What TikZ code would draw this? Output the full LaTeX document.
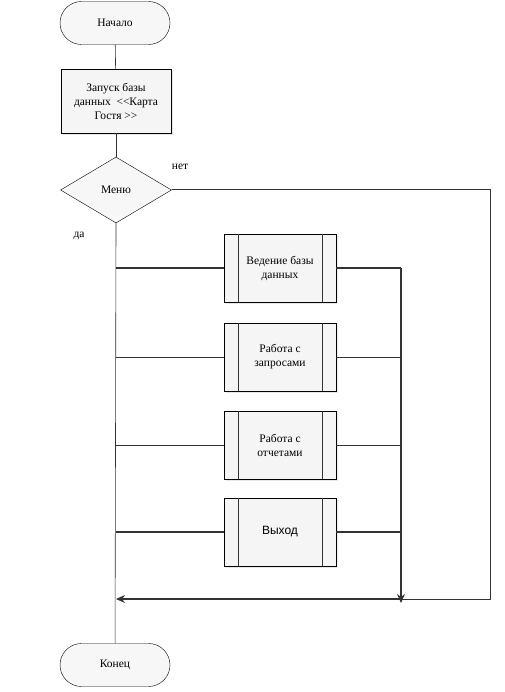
\documentclass[tikz,border=0pt]{standalone}
\usepackage{fontspec}
\setmainfont{Liberation Serif}
\newfontfamily\boxsans{Liberation Sans}
\usetikzlibrary{arrows.meta, shapes.geometric, shapes.misc, shadows}

\begin{document}
\begin{tikzpicture}[x=1pt, y=-1pt, font=\fontsize{11.5}{14}\selectfont,
  term/.style={draw, rounded rectangle, fill=gray!6, minimum width=110pt,
    minimum height=43pt, inner sep=0pt},
  procbox/.style={draw, fill=gray!8, drop shadow={shadow xshift=2pt,
    shadow yshift=-2pt, fill=gray!35}, minimum width=110pt,
    minimum height=64pt, align=center},
  subbox/.style={draw, fill=gray!8, drop shadow={shadow xshift=2pt,
    shadow yshift=-2pt, fill=gray!35}, minimum width=112pt,
    minimum height=68pt, align=center},
  thin line/.style={line width=0.6pt, draw=black!80},
  thick line/.style={line width=1.3pt, draw=black!80}]

\useasboundingbox (0,0) rectangle (504,692);

% main column
\node[term] (start) at (115,23) {Начало};
\node[procbox] (launch) at (116,101) {Запуск базы\\данных \ <{}<Карта\\Гостя >{}>};
\node[draw, diamond, fill=gray!6, minimum width=111pt, minimum height=66pt,
  inner sep=0pt] (menu) at (116,190) {Меню};
\node[term] (stop) at (115,665) {Конец};

\node at (180,167) {нет};
\node at (79,236) {да};

% subprocesses
\node[subbox] (sub1) at (280,268) {Ведение базы\\данных};
\node[subbox] (sub2) at (280,357) {Работа с\\запросами};
\node[subbox] (sub3) at (280,445) {Работа с\\отчетами};
\node[subbox, font=\boxsans\fontsize{12}{14}\selectfont] (sub4) at (280,532) {Выход};

\foreach \b in {sub1,sub2,sub3,sub4} {
  \draw[thin line] ([xshift=14pt]\b.north west) -- ([xshift=14pt]\b.south west);
  \draw[thin line] ([xshift=-14pt]\b.north east) -- ([xshift=-14pt]\b.south east);
}

\coordinate (jr) at (401,599);
\coordinate (jl) at (116,599);
\coordinate (far) at (490,190);

\draw[thin line] (start) -- (launch);
\draw[thin line] (launch) -- (menu);
\draw[thin line] (menu.south) -- (stop);

% branches
\draw[thick line] (sub1.west -| menu.south) -- (sub1.west);
\draw[thick line] (sub1.east) -- (sub1.east -| jr);
\draw[thin line] (sub2.west -| menu.south) -- (sub2.west);
\draw[thin line] (sub2.east) -- (sub2.east -| jr);
\draw[thin line] (sub3.west -| menu.south) -- (sub3.west);
\draw[thin line] (sub3.east) -- (sub3.east -| jr);
\draw[thick line] (sub4.west -| menu.south) -- (sub4.west);
\draw[thick line] (sub4.east) -- (sub4.east -| jr);

% return paths
\draw[thick line, -{Stealth[length=9pt, width=8pt]}] (sub1.east -| jr) -- ([yshift=-4pt]jr);
\draw[line width=1pt, draw=black!80] (menu.east) -- (far) |- (jr);
\draw[thick line, -{Stealth[length=9pt, width=8pt]}] (jr) -- (jl);

\end{tikzpicture}
\end{document}
